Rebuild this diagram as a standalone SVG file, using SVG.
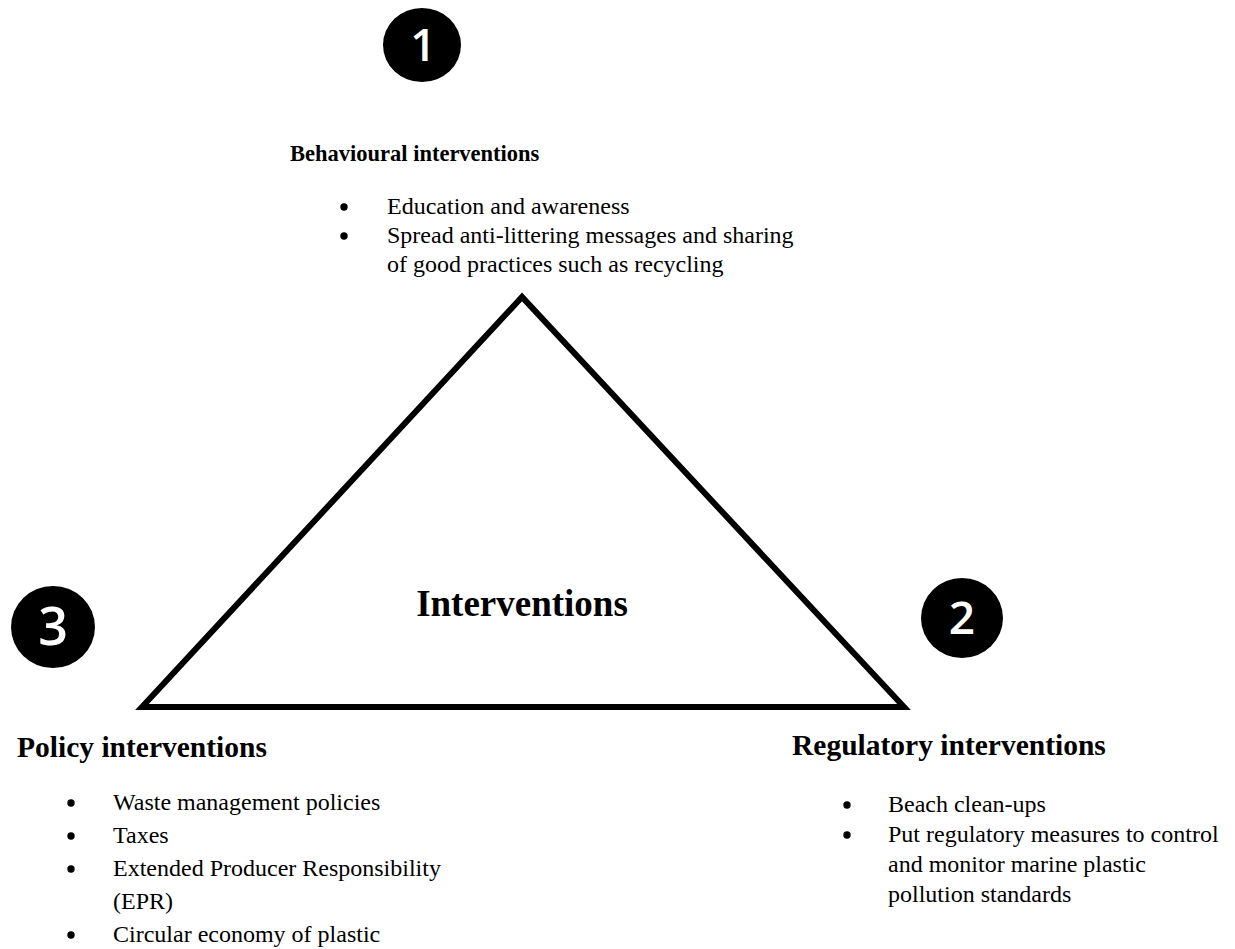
<svg xmlns="http://www.w3.org/2000/svg" width="1235" height="949" viewBox="0 0 1235 949">
<style>
.badge{fill:#000;}
.num{font-family:"Open Sans","Noto Sans","DejaVu Sans",sans-serif;font-weight:600;fill:#fff;text-anchor:middle;}
.hd{font-family:"Liberation Serif","Times New Roman",serif;font-weight:bold;fill:#000;}
.tx{font-family:"Liberation Serif","Times New Roman",serif;font-size:24px;fill:#000;}
.dot{fill:#000;}
.tri{fill:none;stroke:#000;stroke-width:6;stroke-linejoin:miter;}
</style>
<rect width="1235" height="949" fill="#fff"/>
<g id="triangle">
<polygon class="tri" points="142,707 522,297 904,707"/>
<text class="hd" x="522" y="616" font-size="37" text-anchor="middle">Interventions</text>
</g>
<g id="node-behavioural">
<ellipse class="badge" cx="422" cy="45" rx="39" ry="37"/>
<text class="num" x="423" y="61" font-size="45">1</text>
<text class="hd" x="290" y="161" font-size="22.5">Behavioural interventions</text>
<circle class="dot" cx="344" cy="207" r="3.7"/>
<text class="tx" x="387" y="214">Education and awareness</text>
<circle class="dot" cx="344" cy="236" r="3.7"/>
<text class="tx" x="387" y="243">Spread anti-littering messages and sharing</text>
<text class="tx" x="387" y="272">of good practices such as recycling</text>
</g>
<g id="node-regulatory">
<ellipse class="badge" cx="962" cy="618" rx="41" ry="40"/>
<text class="num" x="962" y="634" font-size="46">2</text>
<text class="hd" x="792" y="755" font-size="29.5">Regulatory interventions</text>
<circle class="dot" cx="847" cy="805" r="3.7"/>
<text class="tx" x="888" y="812">Beach clean-ups</text>
<circle class="dot" cx="847" cy="835" r="3.7"/>
<text class="tx" x="888" y="842">Put regulatory measures to control</text>
<text class="tx" x="888" y="872">and monitor marine plastic</text>
<text class="tx" x="888" y="902">pollution standards</text>
</g>
<g id="node-policy">
<ellipse class="badge" cx="53" cy="627" rx="42" ry="41"/>
<text class="num" x="53" y="645" font-size="52">3</text>
<text class="hd" x="17" y="757" font-size="29.5">Policy interventions</text>
<circle class="dot" cx="71" cy="803" r="3.7"/>
<text class="tx" x="113" y="810">Waste management policies</text>
<circle class="dot" cx="71" cy="836" r="3.7"/>
<text class="tx" x="113" y="843">Taxes</text>
<circle class="dot" cx="71" cy="869" r="3.7"/>
<text class="tx" x="113" y="876">Extended Producer Responsibility</text>
<text class="tx" x="113" y="909">(EPR)</text>
<circle class="dot" cx="71" cy="935" r="3.7"/>
<text class="tx" x="113" y="942">Circular economy of plastic</text>
</g>
</svg>
